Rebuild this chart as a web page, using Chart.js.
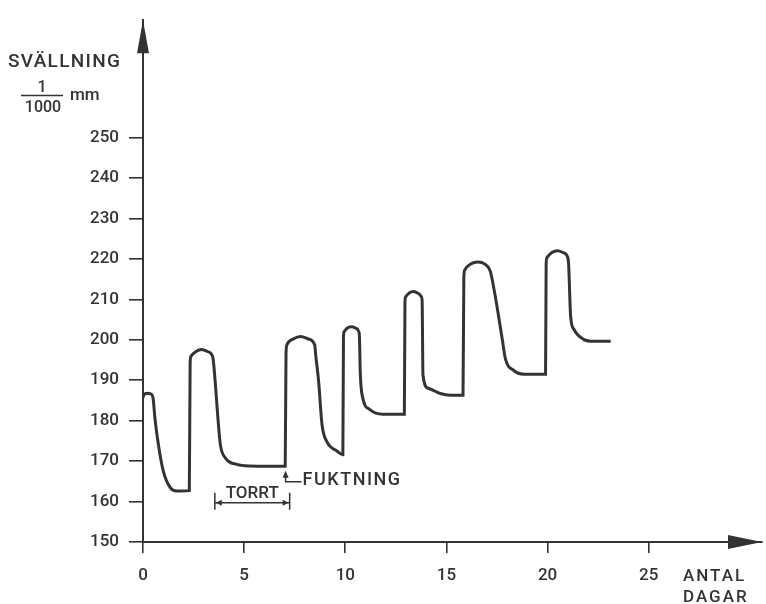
<!DOCTYPE html>
<html>
<head>
<meta charset="utf-8">
<title>Svällning</title>
<script src="https://cdn.jsdelivr.net/npm/chart.js@4.4.1/dist/chart.umd.min.js"></script>
<style>
  html, body { margin: 0; padding: 0; background: #fff; }
  #wrap { width: 766px; height: 604px; }
</style>
</head>
<body>
<div id="wrap"><canvas id="swellChart" width="766" height="604"></canvas></div>
<script>
// Days (x) and swelling in 1/1000 mm (y)
const days = [
  0, 0.08, 0.25, 0.42, 0.5, 0.59, 0.76, 1.0, 1.34, 1.67, 2.29,
  2.33, 2.37, 2.62, 2.9, 3.19, 3.44, 3.49, 3.57, 3.69, 3.82, 4.07, 4.64, 5.3, 7.03,
  7.07, 7.11, 7.43, 7.8, 8.17, 8.49, 8.53, 8.68, 8.85, 9.09, 9.59, 9.88,
  9.91, 9.94, 10.1, 10.3, 10.5, 10.67, 10.7, 10.74, 10.87, 11.2, 11.85, 12.92,
  12.95, 12.98, 13.16, 13.37, 13.58, 13.77, 13.8, 13.84, 14.1, 14.7, 15.2, 15.82,
  15.86, 15.9, 16.2, 16.55, 16.9, 17.15, 17.25, 17.5, 17.76, 17.92, 18.33, 18.82, 19.9,
  19.93, 19.97, 20.21, 20.5, 20.77, 21.0, 21.04, 21.14, 21.3, 21.78, 22.28, 23.12
];
const swelling = [
  185.8, 186.6, 186.8, 186.5, 185.5, 180.6, 174.1, 167.6, 163.5, 162.6, 162.7,
  194.2, 195.9, 197.1, 197.6, 197.1, 195.9, 194.2, 189.6, 181.5, 174.2, 170.8, 169.2, 168.8, 168.7,
  196.6, 198.7, 200.2, 200.8, 200.2, 198.7, 196.6, 189.8, 179, 174.8, 172.5, 171.6,
  200.7, 201.95, 202.9, 203.2, 202.9, 201.95, 200.7, 192, 185.5, 182.8, 181.6, 181.6,
  209.3, 210.6, 211.55, 211.9, 211.55, 210.6, 209.3, 191.3, 188, 186.7, 186.3, 186.3,
  215.2, 217.2, 218.7, 219.2, 218.7, 217.2, 215.2, 208.2, 200.1, 195.2, 192.4, 191.5, 191.5,
  218.7, 220.35, 221.55, 222, 221.55, 220.35, 218.7, 205.8, 202.6, 200.1, 199.6, 199.6
];
const xTicks = [0, 5, 10, 15, 20, 25];
const yTicks = [150, 160, 170, 180, 190, 200, 210, 220, 230, 240, 250];

const ink = "#333333";
const fontFam = "Roboto, 'DejaVu Sans', sans-serif";

// Axis arrows, axis titles and the TORRT / FUKTNING notes
const decorations = {
  id: "decorations",
  afterDraw(chart) {
    const { ctx, chartArea: a, scales } = chart;
    const x = scales.x, y = scales.y;
    ctx.save();
    ctx.fillStyle = ink;
    ctx.strokeStyle = ink;

    // arrow heads
    ctx.beginPath();
    ctx.moveTo(a.left, a.top);
    ctx.lineTo(a.left - 6, a.top + 33);
    ctx.lineTo(a.left + 6, a.top + 33);
    ctx.closePath();
    ctx.fill();
    ctx.beginPath();
    ctx.moveTo(a.right, a.bottom);
    ctx.lineTo(a.right - 34, a.bottom - 7);
    ctx.lineTo(a.right - 34, a.bottom + 7);
    ctx.closePath();
    ctx.fill();

    // y title
    ctx.textBaseline = "alphabetic";
    ctx.textAlign = "left";
    ctx.font = "500 19px " + fontFam;
    ctx.letterSpacing = "1.3px";
    ctx.fillText("SVÄLLNING", 8, 67);
    ctx.font = "500 16px " + fontFam;
    ctx.letterSpacing = "0px";
    ctx.textAlign = "center";
    ctx.fillText("1", 42, 92);
    ctx.fillText("1000", 43, 112);
    ctx.lineWidth = 1.5;
    ctx.beginPath();
    ctx.moveTo(21, 95.5);
    ctx.lineTo(63, 95.5);
    ctx.stroke();
    ctx.textAlign = "left";
    ctx.font = "500 17px " + fontFam;
    ctx.fillText("mm", 70, 100);

    // x title
    ctx.font = "500 17px " + fontFam;
    ctx.letterSpacing = "2px";
    ctx.fillText("ANTAL", 683, 581);
    ctx.fillText("DAGAR", 683, 602);
    ctx.letterSpacing = "0px";

    // FUKTNING note
    const fx = x.getPixelForValue(7.05);
    const fy = y.getPixelForValue(167.6);
    ctx.beginPath();
    ctx.moveTo(fx, fy);
    ctx.lineTo(fx - 3, fy + 7);
    ctx.lineTo(fx + 3, fy + 7);
    ctx.closePath();
    ctx.fill();
    ctx.lineWidth = 1.5;
    ctx.beginPath();
    ctx.moveTo(fx, fy + 5);
    ctx.lineTo(fx, fy + 11);
    ctx.lineTo(fx + 16, fy + 11);
    ctx.stroke();
    ctx.font = "500 18px " + fontFam;
    ctx.letterSpacing = "1.5px";
    ctx.textBaseline = "middle";
    ctx.fillText("FUKTNING", fx + 17, fy + 10);
    ctx.letterSpacing = "0px";

    // TORRT bracket
    const t0 = x.getPixelForValue(3.55);
    const t1 = x.getPixelForValue(7.25);
    const ty = y.getPixelForValue(159.7);
    ctx.beginPath();
    ctx.moveTo(t0, ty);
    ctx.lineTo(t1, ty);
    ctx.moveTo(t0, ty - 10);
    ctx.lineTo(t0, ty + 7);
    ctx.moveTo(t1, ty - 10);
    ctx.lineTo(t1, ty + 7);
    ctx.stroke();
    ctx.beginPath();
    ctx.moveTo(t0 + 1, ty);
    ctx.lineTo(t0 + 7, ty - 3);
    ctx.lineTo(t0 + 7, ty + 3);
    ctx.closePath();
    ctx.moveTo(t1 - 1, ty);
    ctx.lineTo(t1 - 7, ty - 3);
    ctx.lineTo(t1 - 7, ty + 3);
    ctx.closePath();
    ctx.fill();
    ctx.font = "500 17px " + fontFam;
    ctx.textAlign = "center";
    ctx.textBaseline = "alphabetic";
    ctx.fillText("TORRT", (t0 + t1) / 2, ty - 5);

    ctx.restore();
  }
};

const ctx = document.getElementById("swellChart").getContext("2d");
new Chart(ctx, {
  type: "scatter",
  data: {
    datasets: [{
      label: "Svällning",
      data: days.map((d, i) => ({ x: d, y: swelling[i] })),
      showLine: true,
      borderColor: ink,
      borderWidth: 3,
      pointRadius: 0,
      cubicInterpolationMode: "monotone",
      fill: false
    }]
  },
  options: {
    responsive: false,
    animation: false,
    layout: { padding: { left: 0, top: 13, right: 4, bottom: 0 } },
    plugins: {
      legend: { display: false },
      tooltip: { enabled: false }
    },
    scales: {
      x: {
        type: "linear",
        min: 0,
        max: 30.6,
        afterFit(scale) { scale.height = 62; },
        afterBuildTicks(scale) { scale.ticks = xTicks.map(v => ({ value: v })); },
        grid: { drawOnChartArea: false, drawTicks: true, tickLength: 11, color: ink, lineWidth: 1.6 },
        border: { display: true, color: ink, width: 2 },
        ticks: { color: ink, padding: 13, maxRotation: 0, font: { family: fontFam, size: 17, weight: "500" } }
      },
      y: {
        type: "linear",
        min: 150,
        max: 279,
        afterFit(scale) { scale.width = 143; },
        afterBuildTicks(scale) { scale.ticks = yTicks.map(v => ({ value: v })); },
        grid: { drawOnChartArea: false, drawTicks: true, tickLength: 14, color: ink, lineWidth: 1.6 },
        border: { display: true, color: ink, width: 2 },
        ticks: { color: ink, padding: 10, font: { family: fontFam, size: 17, weight: "500" } }
      }
    }
  },
  plugins: [decorations]
});
</script>
</body>
</html>
